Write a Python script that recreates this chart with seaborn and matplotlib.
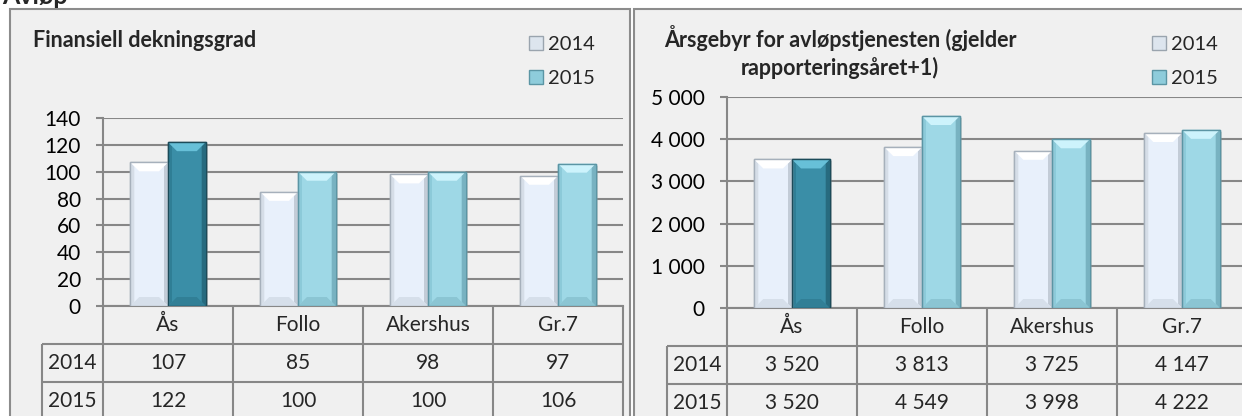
import matplotlib
matplotlib.use("Agg")
import matplotlib.pyplot as plt
import seaborn as sns
import pandas as pd
from matplotlib.patches import Rectangle, Polygon, Patch
from matplotlib.ticker import MultipleLocator, FuncFormatter

# ---- data -------------------------------------------------------------
regions = ["Ås", "Follo", "Akershus", "Gr.7"]
years = ["2014", "2015"]
coverage_2014 = [107, 85, 98, 97]
coverage_2015 = [122, 100, 100, 106]
fee_2014 = [3520, 3813, 3725, 4147]
fee_2015 = [3520, 4549, 3998, 4222]
highlight = "Ås"

page_title = "Avløp"
title_left = "Finansiell dekningsgrad"
title_right = ["Årsgebyr for avløpstjenesten (gjelder", "rapporteringsåret+1)"]

# ---- style ------------------------------------------------------------
W, H = 1242, 416
sns.set_theme(style="white")
plt.rcParams["font.family"] = ["Lato", "DejaVu Sans"]
FS = 15
PANEL = "#F0F0F0"
BORDER = "#8C8C8C"
GRID = "#878787"

# bar looks: face, top bevel, left bevel, right bevel, bottom bevel, outline
LOOK_14 = dict(face="#E8F0FB", top="#FFFFFF", left="#D5DDE7", right="#C3CCD7",
               bottom="#D6DFEA", edge="#A6B0BB")
LOOK_15 = dict(face="#9ED8E6", top="#CDF3FC", left="#8CCAD9", right="#78B2C1",
               bottom="#8BC5D3", edge="#5B95A4")
LOOK_HI = dict(face="#3A8EA7", top="#67C0D8", left="#2F7E95", right="#276B7F",
               bottom="#317F96", edge="#1C4B59")

fig = plt.figure(figsize=(W / 100, H / 100), dpi=100, facecolor="white")


def box(x0, y0, x1, y1):
    """Pixel box measured from the top-left corner -> figure fraction."""
    return [x0 / W, 1 - y1 / H, (x1 - x0) / W, (y1 - y0) / H]


# panel frames
for x0, x1 in [(10, 630), (634, 1260)]:
    fig.patches.append(Rectangle((x0 / W, 1 - 440 / H), (x1 - x0) / W, 431 / H,
                                 transform=fig.transFigure, facecolor=PANEL,
                                 edgecolor=BORDER, lw=1.5, zorder=-5))

fig.text(2 / W, 1 - 4 / H, page_title, fontsize=18, fontweight="bold",
         va="baseline", ha="left")


def bevel_bars(ax):
    """Give each seaborn bar a chamfered, Excel-like bevel."""
    fig.canvas.draw()
    bb = ax.get_window_extent()
    x0, x1 = ax.get_xlim()
    y0, y1 = ax.get_ylim()
    px = (x1 - x0) / bb.width
    py = (y1 - y0) / bb.height
    for cont, year in zip(ax.containers, years):
        for patch, reg in zip(cont.patches, regions):
            look = LOOK_14 if year == "2014" else (LOOK_HI if reg == highlight else LOOK_15)
            x, w = patch.get_x(), patch.get_width()
            b, h = patch.get_y(), patch.get_height()
            t = b + h
            patch.set_facecolor(look["face"])
            patch.set_edgecolor(look["edge"])
            patch.set_linewidth(1.0)
            s, c = 4 * px, 9 * px
            sy, cy = 4 * py, 9 * py
            # drop shadow
            ax.add_patch(Rectangle((x + 2 * px, b), w, h - 2 * py, facecolor="#9A9A9A",
                                   alpha=0.35, lw=0, zorder=patch.get_zorder() - 0.1))
            polys = [
                ([(x, b), (x + s, b + sy), (x + s, t - sy), (x, t)], look["left"]),
                ([(x + w, b), (x + w - s, b + sy), (x + w - s, t - sy), (x + w, t)], look["right"]),
                ([(x, b), (x + w, b), (x + w - c, b + cy), (x + c, b + cy)], look["bottom"]),
                ([(x, t), (x + w, t), (x + w - c, t - cy), (x + c, t - cy)], look["top"]),
            ]
            for pts, col in polys:
                ax.add_patch(Polygon(pts, closed=True, facecolor=col, lw=0,
                                     zorder=patch.get_zorder() + 0.1))
            ax.add_patch(Rectangle((x, b), w, h, facecolor="none", edgecolor=look["edge"],
                                   lw=1.0, zorder=patch.get_zorder() + 0.2))


def draw_chart(plot_px, head_left, v14, v15, ymax, ystep, fmt):
    ax = fig.add_axes(box(*plot_px))
    ax.set_facecolor("none")
    df = pd.DataFrame({"region": regions * 2,
                       "year": [years[0]] * len(regions) + [years[1]] * len(regions),
                       "value": v14 + v15})
    sns.barplot(data=df, x="region", y="value", hue="year", order=regions,
                hue_order=years, palette=[LOOK_14["face"], LOOK_15["face"]],
                width=0.58, saturation=1, legend=False, ax=ax, zorder=3)
    ax.set_xlim(-0.5, len(regions) - 0.5)
    ax.set_ylim(0, ymax)
    ax.yaxis.set_major_locator(MultipleLocator(ystep))
    ax.yaxis.set_major_formatter(FuncFormatter(fmt))
    ax.yaxis.grid(True, color=GRID, lw=1.5)
    ax.set_axisbelow(True)
    for sp in ["top", "right"]:
        ax.spines[sp].set_visible(False)
    for sp in ["left", "bottom"]:
        ax.spines[sp].set_color(GRID)
        ax.spines[sp].set_linewidth(1.5)
    ax.tick_params(axis="y", which="major", direction="out", length=5, width=1.5,
                   color=GRID, pad=11, labelsize=FS, labelcolor="black", left=True)
    ax.tick_params(axis="x", bottom=False, labelbottom=False)
    ax.set_xlabel("")
    ax.set_ylabel("")
    bevel_bars(ax)

    # data table under the plot
    x_left, y_top, x_right, _ = plot_px
    col_px = (x_right - x_left) / len(regions)
    hw = (x_left - head_left) / col_px
    n = len(regions)
    tab = fig.add_axes(box(head_left, plot_px[3], x_right, plot_px[3] + 114))
    tab.set_xlim(-0.5 - hw, n - 0.5)
    tab.set_ylim(3, 0)
    tab.axis("off")
    kw = dict(color=GRID, lw=1.5, clip_on=False)
    tab.hlines([1, 2, 3], -0.5 - hw, n - 0.5, **kw)
    tab.vlines([-0.5 - hw], 1, 3, **kw)
    tab.vlines([i - 0.5 for i in range(n + 1)], 0, 3, **kw)
    for i, reg in enumerate(regions):
        tab.text(i, 0.5, reg, ha="center", va="center", fontsize=FS)
        tab.text(i, 1.5, fmt(v14[i], None), ha="center", va="center", fontsize=FS)
        tab.text(i, 2.5, fmt(v15[i], None), ha="center", va="center", fontsize=FS)
    for r, yr in enumerate(years):
        tab.text(-0.5 - hw / 2, 1.5 + r, yr, ha="center", va="center", fontsize=FS)
    return ax


def plain(v, _):
    return f"{v:.0f}"


def spaced(v, _):
    return f"{v:,.0f}".replace(",", " ")


ax1 = draw_chart((103, 118, 623, 306), 42, coverage_2014, coverage_2015, 140, 20, plain)
ax2 = draw_chart((727, 97, 1247, 308), 667, fee_2014, fee_2015, 5000, 1000, spaced)

# titles
fig.text(33 / W, 1 - 47 / H, title_left, fontsize=15.5, fontweight="bold",
         ha="left", va="baseline")
for k, line in enumerate(title_right):
    fig.text(840 / W, 1 - (47 + 28 * k) / H, line, fontsize=15.5, fontweight="bold",
             ha="center", va="baseline")

# legends
handles = [Patch(facecolor="#DDE5EE", edgecolor="#9AA4AE", lw=1.0, label=years[0]),
           Patch(facecolor="#8ECCDB", edgecolor="#5B95A4", lw=1.0, label=years[1])]
for lx in (529, 1152):
    fig.legend(handles=handles, loc="upper left", bbox_to_anchor=(lx / W, 1 - 36 / H),
               bbox_transform=fig.transFigure, frameon=False, fontsize=14.5,
               handlelength=0.7, handleheight=0.7, handletextpad=0.25,
               labelspacing=0.85, borderpad=0, borderaxespad=0)

fig.savefig("out.png", dpi=100, facecolor="white")
